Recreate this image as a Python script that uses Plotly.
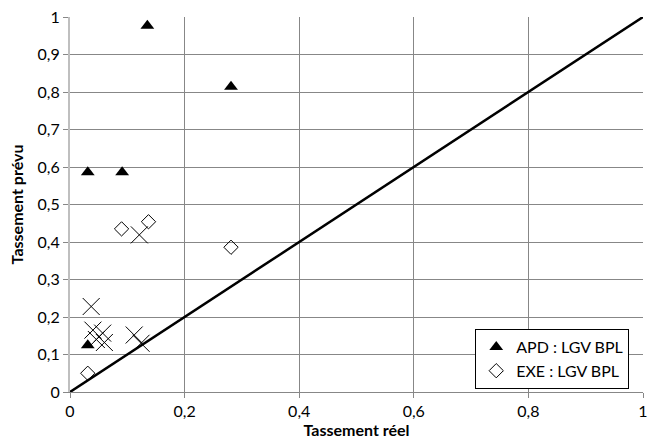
import plotly.graph_objects as go

# Predicted vs. measured settlement (tassement)
apd_reel = [0.135, 0.281, 0.031, 0.091, 0.031]
apd_prevu = [0.977, 0.814, 0.586, 0.586, 0.125]

exe_reel = [0.090, 0.137, 0.281, 0.031]
exe_prevu = [0.435, 0.454, 0.386, 0.050]

autre_reel = [0.037, 0.040, 0.057, 0.046, 0.060, 0.121, 0.112, 0.124]
autre_prevu = [0.228, 0.165, 0.157, 0.140, 0.132, 0.419, 0.152, 0.130]

ref_line = [0, 1]

FONT = "Lato, Open Sans, sans-serif"

fig = go.Figure()

fig.add_trace(go.Scatter(
    x=ref_line, y=ref_line, mode="lines",
    line=dict(color="black", width=2.5),
    showlegend=False, hoverinfo="skip",
))

fig.add_trace(go.Scatter(
    x=autre_reel, y=autre_prevu, mode="markers",
    marker=dict(symbol="x-thin-open", size=17, color="black",
                line=dict(color="black", width=1)),
    showlegend=False,
))

fig.add_trace(go.Scatter(
    x=apd_reel, y=apd_prevu, mode="markers", name="APD : LGV BPL",
    marker=dict(symbol="triangle-up", size=12, color="black"),
))

fig.add_trace(go.Scatter(
    x=exe_reel, y=exe_prevu, mode="markers", name="EXE : LGV BPL",
    marker=dict(symbol="diamond-open", size=11, color="black",
                line=dict(color="black", width=1)),
))

fig.update_layout(
    width=653, height=445,
    margin=dict(l=70, r=5, t=17, b=53),
    paper_bgcolor="white", plot_bgcolor="white",
    separators=", ",
    font=dict(family=FONT, size=16, color="black"),
    legend=dict(
        x=0.976, y=0.008, xanchor="right", yanchor="bottom",
        bgcolor="white", bordercolor="black", borderwidth=1,
        font=dict(family=FONT, size=16, color="black"),
        tracegroupgap=4, itemwidth=30,
    ),
)

fig.update_xaxes(
    range=[0, 1], dtick=0.2, tick0=0,
    showgrid=True, gridcolor="#878787", gridwidth=1,
    showline=True, linecolor="#878787", linewidth=1,
    ticks="outside", ticklen=5, tickcolor="#878787",
    zeroline=False, mirror=False,
    title=dict(text="<b>Tassement réel</b>", font=dict(family=FONT, size=16),
               standoff=3),
)

fig.update_yaxes(
    range=[0, 1], dtick=0.1, tick0=0,
    showgrid=True, gridcolor="#878787", gridwidth=1,
    showline=True, linecolor="#bfbfbf", linewidth=2,
    ticks="outside", ticklen=5, tickcolor="#878787",
    zeroline=False,
    title=dict(text="<b>Tassement prévu</b>", font=dict(family=FONT, size=16),
               standoff=10),
)

fig.write_html("out.html")
